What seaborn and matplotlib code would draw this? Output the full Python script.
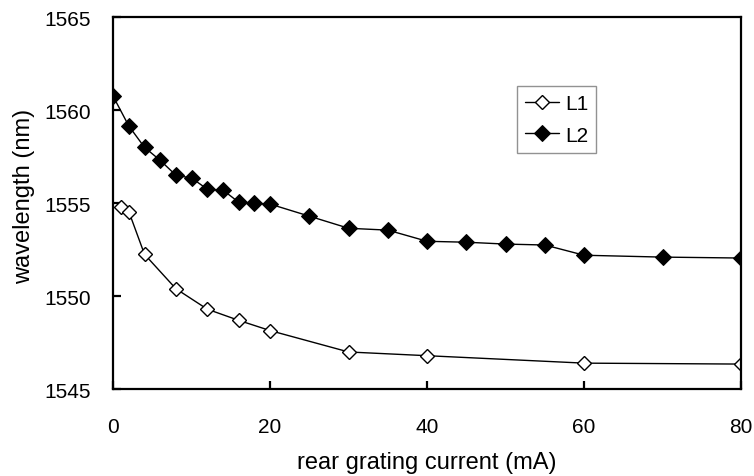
import matplotlib
matplotlib.use("Agg")
import matplotlib.pyplot as plt
import seaborn as sns
import pandas as pd

# values
l1_current = [1, 2, 4, 8, 12, 16, 20, 30, 40, 60, 80]
l1_wavelength = [1554.8, 1554.55, 1552.25, 1550.4, 1549.3, 1548.7, 1548.15,
                 1547.0, 1546.8, 1546.4, 1546.35]

l2_current = [0, 2, 4, 6, 8, 10, 12, 14, 16, 18, 20, 25, 30, 35, 40, 45, 50,
              55, 60, 70, 80]
l2_wavelength = [1560.75, 1559.15, 1558.0, 1557.3, 1556.5, 1556.35, 1555.75,
                 1555.7, 1555.05, 1555.0, 1554.95, 1554.3, 1553.65, 1553.55,
                 1552.95, 1552.9, 1552.8, 1552.75, 1552.2, 1552.1, 1552.05]

x_ticks = [0, 20, 40, 60, 80]
y_ticks = [1545, 1550, 1555, 1560, 1565]

df1 = pd.DataFrame({'current': l1_current, 'wavelength': l1_wavelength})
df2 = pd.DataFrame({'current': l2_current, 'wavelength': l2_wavelength})

sns.set_style('white')
plt.rcParams['font.family'] = ['Liberation Sans', 'DejaVu Sans']
plt.rcParams['text.color'] = 'black'
plt.rcParams['axes.labelcolor'] = 'black'

fig = plt.figure(figsize=(7.54, 4.77), dpi=100)
ax = fig.add_axes([0.150, 0.182, 0.833, 0.780])

sns.lineplot(data=df1, x='current', y='wavelength', ax=ax, color='black',
             linewidth=1, marker='D', markersize=7, markerfacecolor='white',
             markeredgecolor='black', markeredgewidth=1, label='L1')
sns.lineplot(data=df2, x='current', y='wavelength', ax=ax, color='black',
             linewidth=1, marker='D', markersize=8.5, markerfacecolor='black',
             markeredgecolor='black', label='L2')

ax.set_xlim(0, 80)
ax.set_ylim(1545, 1565)
ax.set_xticks(x_ticks)
ax.set_yticks(y_ticks)
for s in ax.spines.values():
    s.set_color('black')
    s.set_linewidth(1.6)
ax.tick_params(direction='in', length=6, width=1.6, labelsize=15,
               bottom=True, left=True, color='black', labelcolor='black')
ax.tick_params(axis='x', pad=20)
ax.tick_params(axis='y', pad=16)

ax.set_xlabel('rear grating current (mA)', fontsize=17, color='black')
ax.set_ylabel('wavelength (nm)', fontsize=17, color='black')
ax.xaxis.set_label_coords(0.5, -0.165)
ax.yaxis.set_label_coords(-0.125, 0.52)

leg = ax.legend(loc='upper left', bbox_to_anchor=(0.643, 0.815), fontsize=15,
                frameon=True, fancybox=False, handlelength=1.6,
                handletextpad=0.3, borderpad=0.4, labelspacing=0.6,
                borderaxespad=0)
leg.get_frame().set_edgecolor('#777777')
leg.get_frame().set_linewidth(1)
for t in leg.get_texts():
    t.set_color('black')

plt.savefig('out.png', dpi=100)
